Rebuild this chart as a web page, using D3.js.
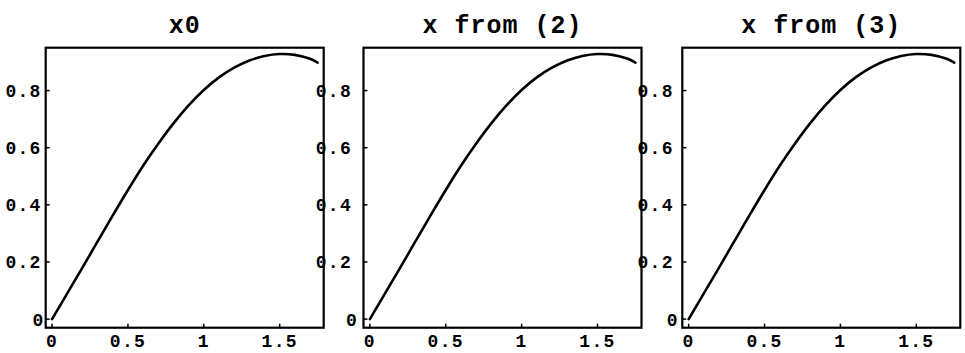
<!DOCTYPE html>
<html>
<head>
<meta charset="utf-8">
<script src="https://cdn.jsdelivr.net/npm/d3@7"></script>
<style>
  html, body { margin: 0; padding: 0; background: #fff; }
  svg { display: block; }
  .title { font-family: "Liberation Mono", "DejaVu Sans Mono", monospace; font-weight: bold; font-size: 25px; letter-spacing: 1px; }
  .tick-label { font-family: "Liberation Mono", "DejaVu Sans Mono", monospace; font-weight: bold; font-size: 18px; letter-spacing: 1.3px; }
</style>
</head>
<body>
<svg id="chart" width="965" height="353"></svg>
<script>
// Panel titles
const titles = ["x0", "x from (2)", "x from (3)"];

// Sample positions along the horizontal axis
const xValues = [0, 0.1, 0.2, 0.3, 0.4, 0.5, 0.6, 0.7, 0.8, 0.9, 1.0,
                 1.1, 1.2, 1.3, 1.4, 1.5, 1.6, 1.7, 1.75];

// Curve values for each panel
const yX0 =    [0, 0.09, 0.18, 0.272, 0.363, 0.452, 0.537, 0.614, 0.685, 0.748, 0.802,
                0.846, 0.88, 0.905, 0.921, 0.928, 0.925, 0.911, 0.898];
const yFrom2 = [0, 0.09, 0.18, 0.272, 0.363, 0.452, 0.537, 0.614, 0.685, 0.748, 0.802,
                0.846, 0.88, 0.905, 0.921, 0.928, 0.925, 0.911, 0.898];
const yFrom3 = [0, 0.09, 0.18, 0.272, 0.363, 0.452, 0.537, 0.614, 0.685, 0.748, 0.802,
                0.846, 0.88, 0.905, 0.921, 0.928, 0.925, 0.911, 0.898];

// Tick values and their labels
const xTicks = [0, 0.5, 1, 1.5];
const xTickLabels = ["0", "0.5", "1", "1.5"];
const yTicks = [0, 0.2, 0.4, 0.6, 0.8];
const yTickLabels = ["0", "0.2", "0.4", "0.6", "0.8"];

const series = [yX0, yFrom2, yFrom3];

// Frame layout of the three panels
const panelLeft = [45.7, 363.5, 682.3];
const labelGap = [4, 11.5, 8.5];     // gap between decimal labels and frame
const zeroGap = [1, 5.5, 3.5];       // gap for the "0" label
const panelTop = 47.7, panelW = 278, panelH = 280;

const svg = d3.select("#chart");

series.forEach((ys, i) => {
  const left = panelLeft[i];
  const x = d3.scaleLinear().domain([-0.042, 1.79]).range([left, left + panelW]);
  const y = d3.scaleLinear().domain([-0.03, 0.95]).range([panelTop + panelH, panelTop]);

  const g = svg.append("g");

  // y tick labels (drawn first so a neighbouring frame can sit over them)
  g.selectAll("text.ylab").data(yTicks).enter().append("text")
    .attr("class", "tick-label ylab")
    .attr("x", d => left - (d === 0 ? zeroGap[i] : labelGap[i]))
    .attr("y", d => y(d) + 6.5)
    .attr("text-anchor", "end")
    .text((d, j) => yTickLabels[j]);

  // x tick labels
  g.selectAll("text.xlab").data(xTicks).enter().append("text")
    .attr("class", "tick-label xlab")
    .attr("x", d => x(d))
    .attr("y", 347)
    .attr("text-anchor", "middle")
    .text((d, j) => xTickLabels[j]);

  // curve
  const line = d3.line()
    .x((d, j) => x(xValues[j]))
    .y(d => y(d))
    .curve(d3.curveCatmullRom.alpha(0.5));
  g.append("path")
    .datum(ys)
    .attr("d", line)
    .attr("fill", "none")
    .attr("stroke", "#000")
    .attr("stroke-width", 2.6)
    .attr("stroke-linecap", "round");

  // inward tick marks
  g.selectAll("line.xt").data(xTicks).enter().append("line")
    .attr("x1", d => x(d)).attr("x2", d => x(d))
    .attr("y1", panelTop + panelH).attr("y2", panelTop + panelH - 4)
    .attr("stroke", "#000").attr("stroke-width", 1.5);
  g.selectAll("line.yt").data(yTicks).enter().append("line")
    .attr("x1", left).attr("x2", left + 4)
    .attr("y1", d => y(d)).attr("y2", d => y(d))
    .attr("stroke", "#000").attr("stroke-width", 1.5);

  // frame
  g.append("rect")
    .attr("x", left).attr("y", panelTop)
    .attr("width", panelW).attr("height", panelH)
    .attr("fill", "none")
    .attr("stroke", "#000")
    .attr("stroke-width", 2.2);

  // title
  svg.append("text")
    .attr("class", "title")
    .attr("x", left + panelW / 2)
    .attr("y", 33)
    .attr("text-anchor", "middle")
    .text(titles[i]);
});

// keep frames on top of neighbouring labels
svg.selectAll("rect").raise();
</script>
</body>
</html>
